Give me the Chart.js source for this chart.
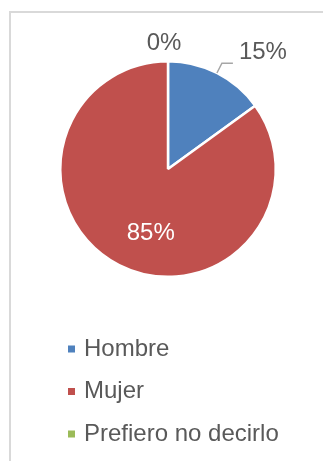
<!DOCTYPE html>
<html>
<head>
<meta charset="utf-8">
<title>Sexo</title>
<script src="https://cdn.jsdelivr.net/npm/chart.js@4.4.0/dist/chart.umd.min.js"></script>
<style>
  html, body { margin: 0; padding: 0; background: #fff; }
  #wrap { position: relative; width: 323px; height: 461px; }
</style>
</head>
<body>
<div id="wrap"><canvas id="genderChart"></canvas></div>
<script>
const categories = ['Hombre', 'Mujer', 'Prefiero no decirlo'];
const shares = [15, 85, 0];
const sliceColors = ['#4f81bd', '#c0504d', '#9bbb59'];

// where each percentage goes: outside with/without leader, or inside the slice
const labelMode = ['leader', 'inside', 'outside'];
const labelNudgeDeg = [0, -12, 0];

const FONT = '"Liberation Sans", Arial, sans-serif';
const TEXT_GREY = '#595959';

// light frame round the plot area
const framePlugin = {
    id: 'frame',
    beforeDraw(chart) {
        const ctx = chart.ctx;
        ctx.save();
        ctx.strokeStyle = '#d9d9d9';
        ctx.lineWidth = 2;
        ctx.strokeRect(10, 12, chart.width + 20, chart.height + 20);
        ctx.restore();
    }
};

// percentage labels, placed from each arc's own geometry
const pieLabels = {
    id: 'pieLabels',
    afterDatasetsDraw(chart) {
        const ctx = chart.ctx;
        const meta = chart.getDatasetMeta(0);
        ctx.save();
        ctx.font = '24px ' + FONT;
        ctx.textBaseline = 'middle';
        meta.data.forEach((arc, i) => {
            const p = arc.getProps(['x', 'y', 'startAngle', 'endAngle', 'outerRadius'], true);
            const mid = (p.startAngle + p.endAngle) / 2 + labelNudgeDeg[i] * Math.PI / 180;
            const dx = Math.cos(mid), dy = Math.sin(mid);
            const text = shares[i] + '%';
            if (labelMode[i] === 'inside') {
                const d = p.outerRadius * 0.62;
                ctx.fillStyle = '#ffffff';
                ctx.textAlign = 'center';
                ctx.fillText(text, p.x + dx * d, p.y + dy * d);
            } else if (labelMode[i] === 'leader') {
                const ex = p.x + dx * (p.outerRadius + 11);
                const ey = p.y + dy * (p.outerRadius + 11);
                ctx.strokeStyle = '#a6a6a6';
                ctx.lineWidth = 1.5;
                ctx.beginPath();
                ctx.moveTo(p.x + dx * p.outerRadius, p.y + dy * p.outerRadius);
                ctx.lineTo(ex, ey);
                ctx.lineTo(ex + 11, ey);
                ctx.stroke();
                ctx.fillStyle = TEXT_GREY;
                ctx.textAlign = 'left';
                ctx.fillText(text, ex + 17, ey - 11);
            } else {
                const d = p.outerRadius + 18;
                ctx.fillStyle = TEXT_GREY;
                ctx.textAlign = 'center';
                ctx.fillText(text, p.x + dx * d - 4, p.y + dy * d);
            }
        });
        ctx.restore();
    }
};

// vertical legend under the pie
const stackedLegend = {
    id: 'stackedLegend',
    afterDraw(chart) {
        const ctx = chart.ctx;
        const top = 349, step = 42.5;
        ctx.save();
        ctx.font = '24px ' + FONT;
        ctx.textBaseline = 'middle';
        ctx.textAlign = 'left';
        chart.data.labels.forEach((name, i) => {
            const y = top + i * step;
            ctx.fillStyle = chart.data.datasets[0].backgroundColor[i];
            ctx.fillRect(68, y - 3.5, 7, 7);
            ctx.fillStyle = TEXT_GREY;
            ctx.fillText(name, 84, y);
        });
        ctx.restore();
    }
};

new Chart(document.getElementById('genderChart'), {
    type: 'pie',
    data: {
        labels: categories,
        datasets: [{
            data: shares,
            backgroundColor: sliceColors,
            borderColor: '#ffffff',
            borderWidth: 2.5
        }]
    },
    options: {
        responsive: true,
        maintainAspectRatio: false,
        animation: false,
        layout: { padding: { left: 59, right: 46, top: 60, bottom: 183 } },
        plugins: {
            legend: { display: false },
            tooltip: { enabled: false }
        }
    },
    plugins: [framePlugin, pieLabels, stackedLegend]
});
</script>
</body>
</html>
